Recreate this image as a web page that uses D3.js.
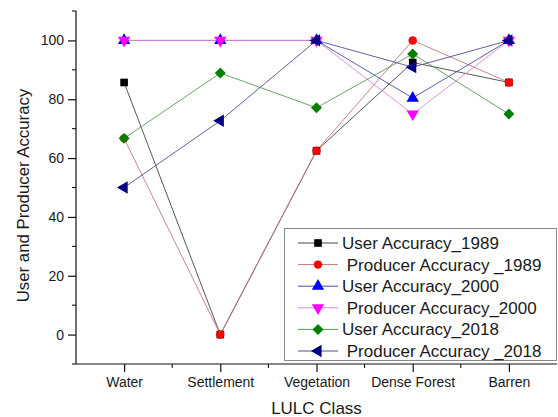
<!DOCTYPE html>
<html>
<head>
<meta charset="utf-8">
<script src="https://cdn.jsdelivr.net/npm/d3@7"></script>
<style>
  body { margin: 0; background: #fff; }
  svg { display: block; font-family: "Liberation Sans", Arial, sans-serif; }
  text { white-space: pre; fill: #1a1a1a; }
</style>
</head>
<body>
<svg width="558" height="417"></svg>
<script>
// data
var classes = ["Water", "Settlement", "Vegetation", "Dense Forest", "Barren"]
var seriesNames = ["User Accuracy_1989", " Producer Accuracy _1989", "User Accuracy_2000",
                   " Producer Accuracy_2000", "User Accuracy_2018", " Producer Accuracy _2018"]
var user1989 = [85.7, 0, 62.5, 92.5, 85.7]
var prod1989 = [66.7, 0, 62.5, 100, 85.7]
var user2000 = [100, 100, 100, 80.4, 100]
var prod2000 = [100, 100, 100, 75, 100]
var user2018 = [66.7, 88.9, 77.1, 95.4, 75]
var prod2018 = [50, 72.7, 100, 90.9, 100]
var yMajor = [0, 20, 40, 60, 80, 100]
var yMinor = [-10, 10, 30, 50, 70, 90, 110]

var markerColors = ["#000000", "#ff0000", "#0000ff", "#ff00ff", "#008000", "#000080"]
var lineColors = ["#444444", "#c07a7a", "#4a4aa8", "#d98ad9", "#5a9a5a", "#50508a"]
var shapes = [
    {type: d3.symbolSquare, size: 58, rot: 0},
    {type: d3.symbolCircle, size: 56, rot: 0},
    {type: d3.symbolTriangle, size: 66, rot: 0},
    {type: d3.symbolTriangle, size: 66, rot: 180},
    {type: d3.symbolSquare, size: 60, rot: 45},
    {type: d3.symbolTriangle, size: 66, rot: -90}
]

var allSeries = [user1989, prod1989, user2000, prod2000, user2018, prod2018]

var svg = d3.select("svg")
var plot = {left: 76, right: 557, top: 11, bottom: 364}

var xScale = d3.scaleLinear()
    .domain([0.5, 5.5])
    .range([plot.left, plot.right])

var yScale = d3.scaleLinear()
    .domain([-10, 110])
    .range([plot.bottom, plot.top])

//
// AXES
//
var yAxis = d3.axisLeft(yScale)
    .tickValues(yMajor)
    .tickSize(8)
    .tickPadding(4)
    .tickFormat(d3.format("d"))

var gy = svg.append("g")
    .attr("transform", "translate(" + plot.left + ",0)")
    .call(yAxis)
gy.select(".domain").attr("d", "M0," + plot.top + "V" + plot.bottom)

gy.selectAll(".minor")
    .data(yMinor)
    .enter()
    .append("line")
    .attr("x1", -4).attr("x2", 0)
    .attr("y1", function(d){ return yScale(d) })
    .attr("y2", function(d){ return yScale(d) })
    .attr("stroke", "#000")

var xAxis = d3.axisBottom(xScale)
    .tickValues([1, 2, 3, 4, 5])
    .tickSize(8)
    .tickPadding(5)
    .tickFormat(function(d){ return classes[d - 1] })

var gx = svg.append("g")
    .attr("transform", "translate(0," + plot.bottom + ")")
    .call(xAxis)
gx.select(".domain").attr("d", "M" + plot.left + ",0H" + plot.right)

gx.selectAll(".minor")
    .data([1.5, 2.5, 3.5, 4.5])
    .enter()
    .append("line")
    .attr("x1", function(d){ return xScale(d) })
    .attr("x2", function(d){ return xScale(d) })
    .attr("y1", 0).attr("y2", 4)
    .attr("stroke", "#000")

svg.selectAll(".tick text")
    .style("font-size", "14px")
    .attr("fill", "#1a1a1a")
svg.selectAll(".domain, .tick line").attr("stroke", "#111").attr("stroke-width", 1.2)

svg.append("text")
    .attr("x", (plot.left + plot.right) / 2)
    .attr("y", 414)
    .attr("text-anchor", "middle")
    .style("font-size", "17px")
    .text("LULC Class")

svg.append("text")
    .attr("transform", "translate(29," + ((plot.top + plot.bottom) / 2 + 8) + ") rotate(-90)")
    .attr("text-anchor", "middle")
    .style("font-size", "16.8px")
    .text("User and Producer Accuracy")

//
// SERIES
//
var line = d3.line()
    .x(function(d, i){ return xScale(i + 1) })
    .y(function(d){ return yScale(d) })

var symbolPath = function(s)
{
    return d3.symbol().type(s.type).size(s.size)()
}

allSeries.forEach(function(values, k)
{
    svg.append("path")
        .attr("d", line(values))
        .attr("fill", "none")
        .attr("stroke", lineColors[k])
        .attr("stroke-width", 0.9)
})

allSeries.forEach(function(values, k)
{
    svg.append("g")
        .selectAll("path")
        .data(values)
        .enter()
        .append("path")
        .attr("d", symbolPath(shapes[k]))
        .attr("transform", function(d, i)
        {
            return "translate(" + xScale(i + 1) + "," + yScale(d) + ") rotate(" + shapes[k].rot + ")"
        })
        .attr("fill", markerColors[k])
})

//
// LEGEND
//
var legend = svg.append("g")

legend.append("rect")
    .attr("x", 284.5).attr("y", 228.5)
    .attr("width", 272).attr("height", 132)
    .attr("fill", "#fff")
    .attr("stroke", "#888")
    .attr("stroke-width", 1)

var rows = legend.selectAll(".row")
    .data(seriesNames)
    .enter()
    .append("g")
    .attr("transform", function(d, i){ return "translate(0," + (243 + i * 21.6) + ")" })

rows.append("line")
    .attr("x1", 298).attr("x2", 338)
    .attr("stroke", function(d, i){ return lineColors[i] })
    .attr("stroke-width", 1)

rows.append("path")
    .attr("d", function(d, i){ return symbolPath(shapes[i]) })
    .attr("transform", function(d, i){ return "translate(318,0) rotate(" + shapes[i].rot + ")" })
    .attr("fill", function(d, i){ return markerColors[i] })

rows.append("text")
    .attr("x", 342)
    .attr("y", 6)
    .style("font-size", "17px")
    .text(function(d){ return d })
</script>
</body>
</html>
